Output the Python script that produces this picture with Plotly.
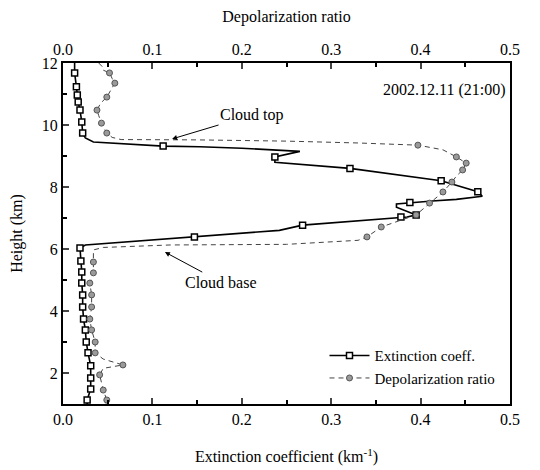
import plotly.graph_objects as go

# Extinction coefficient (km^-1) line vs height (km)
ext_line_h = [12.0, 11.68, 11.23, 10.97, 10.74, 10.48, 10.1, 9.74, 9.58, 9.45, 9.40, 9.35, 9.32, 9.30, 9.25,
              9.15, 9.05, 8.97, 8.8, 8.6, 8.2, 7.85, 7.7, 7.6, 7.55, 7.5, 7.45, 7.35, 7.1, 7.03, 6.77, 6.6,
              6.39, 6.13, 6.03, 5.61, 5.26, 4.9, 4.52, 4.13, 3.74, 3.39, 3.0, 2.65, 2.23, 1.84, 1.48, 1.13, 1.0]
ext_line_v = [0.013, 0.013, 0.015, 0.016, 0.017, 0.019, 0.021, 0.022, 0.025, 0.034, 0.06, 0.09, 0.112, 0.153, 0.20,
              0.265, 0.250, 0.237, 0.237, 0.321, 0.423, 0.464, 0.469, 0.440, 0.413, 0.388, 0.373, 0.373, 0.395, 0.385, 0.268, 0.242,
              0.147, 0.025, 0.019, 0.020, 0.021, 0.021, 0.022, 0.022, 0.023, 0.025, 0.026, 0.028, 0.031, 0.031, 0.031, 0.027, 0.027]
# Extinction coefficient markers
ext_mark_h = [11.68, 11.23, 10.97, 10.74, 10.48, 10.1, 9.74, 9.32, 8.97, 8.6, 8.2, 7.85, 7.5, 7.1, 7.03,
              6.77, 6.39, 6.03, 5.61, 5.26, 4.9, 4.52, 4.13, 3.74, 3.39, 3.0, 2.65, 2.23, 1.84, 1.48, 1.13]
ext_mark_v = [0.013, 0.015, 0.016, 0.017, 0.019, 0.021, 0.022, 0.112, 0.237, 0.321, 0.423, 0.464, 0.388, 0.395, 0.378,
              0.268, 0.147, 0.019, 0.020, 0.021, 0.021, 0.022, 0.022, 0.023, 0.025, 0.026, 0.028, 0.031, 0.031, 0.031, 0.027]

# Depolarization ratio line vs height (km)
dep_line_h = [12.0, 11.85, 11.77, 11.68, 11.5, 11.35, 11.1, 10.9, 10.7, 10.48, 10.3, 10.06, 9.9, 9.74, 9.6, 9.53,
              9.52, 9.48, 9.42, 9.35, 9.2, 8.97, 8.77, 8.55, 8.35, 8.16, 7.84, 7.48, 7.1, 6.9, 6.71, 6.39, 6.28,
              6.15, 6.13, 6.05, 5.97, 5.58, 5.23, 4.9, 4.52, 4.13, 3.74, 3.39, 3.0, 2.65, 2.45, 2.26, 2.15, 1.94,
              1.7, 1.45, 1.13, 1.0]
dep_line_v = [0.040, 0.045, 0.045, 0.052, 0.055, 0.058, 0.053, 0.049, 0.042, 0.038, 0.040, 0.043, 0.046, 0.049, 0.055, 0.065,
              0.15, 0.25, 0.33, 0.397, 0.425, 0.44, 0.451, 0.447, 0.440, 0.435, 0.425, 0.41, 0.395, 0.375, 0.356, 0.34, 0.33,
              0.25, 0.12, 0.045, 0.034, 0.034, 0.034, 0.030, 0.032, 0.032, 0.030, 0.032, 0.036, 0.036, 0.045, 0.067, 0.045, 0.041,
              0.043, 0.045, 0.049, 0.048]
# Depolarization ratio markers
dep_mark_h = [11.68, 11.35, 10.9, 10.48, 10.06, 9.74, 9.35, 8.97, 8.77, 8.55, 8.16, 7.84, 7.48, 7.1, 6.71, 6.39,
              5.58, 5.23, 4.9, 4.52, 4.13, 3.74, 3.39, 3.0, 2.65, 2.26, 1.94, 1.45, 1.13]
dep_mark_v = [0.052, 0.058, 0.049, 0.038, 0.043, 0.049, 0.397, 0.44, 0.451, 0.447, 0.435, 0.425, 0.41, 0.395, 0.356, 0.34,
              0.034, 0.034, 0.030, 0.032, 0.032, 0.030, 0.032, 0.036, 0.036, 0.067, 0.041, 0.045, 0.049]

FONT = "Liberation Serif"

fig = go.Figure()
fig.add_trace(go.Scatter(x=dep_line_v, y=dep_line_h, mode="lines", xaxis="x2",
                         line=dict(color="#444444", width=1, dash="5px,4px"), showlegend=False, hoverinfo="skip"))
fig.add_trace(go.Scatter(x=dep_mark_v, y=dep_mark_h, mode="markers", xaxis="x2",
                         marker=dict(symbol="circle", size=6, color="#9a9a9a", line=dict(color="#555555", width=1)),
                         showlegend=False))
fig.add_trace(go.Scatter(x=ext_line_v, y=ext_line_h, mode="lines",
                         line=dict(color="black", width=1.6), showlegend=False, hoverinfo="skip"))
fig.add_trace(go.Scatter(x=ext_mark_v, y=ext_mark_h, mode="markers",
                         marker=dict(symbol="square", size=6, color="white", line=dict(color="black", width=1.5)),
                         showlegend=False))
# legend entries
fig.add_trace(go.Scatter(x=[None], y=[None], mode="lines+markers", name="Extinction coeff.",
                         line=dict(color="black", width=1.6),
                         marker=dict(symbol="square", size=6, color="white", line=dict(color="black", width=1.5))))
fig.add_trace(go.Scatter(x=[None], y=[None], mode="lines+markers", name="Depolarization ratio",
                         line=dict(color="#444444", width=1, dash="5px,4px"),
                         marker=dict(symbol="circle", size=6, color="#9a9a9a", line=dict(color="#555555", width=1))))

axis_common = dict(range=[0, 0.5], dtick=0.1, tickformat=".1f", ticks="inside", ticklen=6, tickwidth=2,
                   showline=True, linewidth=2, linecolor="black", showgrid=False, zeroline=False,
                   automargin=False,
                   tickfont=dict(family=FONT, size=16, color="black"),
                   minor=dict(dtick=0.05, ticks="inside", ticklen=4, tickwidth=1.5, tickcolor="black"))

fig.update_layout(
    width=540, height=470,
    margin=dict(l=63, r=30, t=63, b=66),
    paper_bgcolor="white", plot_bgcolor="white",
    font=dict(family=FONT, size=16, color="black"),
    xaxis=dict(**axis_common,
               title=dict(text="Extinction coefficient (km<sup>-1</sup>)", font=dict(family=FONT, size=16), standoff=24)),
    xaxis2=dict(**axis_common, overlaying="x", side="top",
                title=dict(text="Depolarization ratio", font=dict(family=FONT, size=16), standoff=14)),
    yaxis=dict(range=[1, 12], tickvals=[2, 4, 6, 8, 10, 12], ticks="inside", ticklen=6, tickwidth=2,
               showline=True, linewidth=2, linecolor="black", mirror=True, showgrid=False, zeroline=False,
               automargin=False,
               tickfont=dict(family=FONT, size=16, color="black"),
               minor=dict(dtick=1, ticks="inside", ticklen=4, tickwidth=1.5, tickcolor="black"),
               title=dict(text="Height (km)", font=dict(family=FONT, size=16), standoff=15)),
    legend=dict(x=0.585, y=0.19, xanchor="left", yanchor="top", bgcolor="rgba(0,0,0,0)",
                font=dict(family=FONT, size=15), tracegroupgap=0, itemwidth=40),
    annotations=[
        dict(x=0.122, y=9.55, xref="x", yref="y", text="Cloud top", showarrow=True, arrowhead=2, arrowsize=1,
             arrowwidth=1, arrowcolor="black", ax=80, ay=-24, font=dict(family=FONT, size=16)),
        dict(x=0.114, y=5.9, xref="x", yref="y", text="Cloud base", showarrow=True, arrowhead=2, arrowsize=1,
             arrowwidth=1, arrowcolor="black", ax=56, ay=30, font=dict(family=FONT, size=16)),
        dict(x=0.995, y=0.921, xref="paper", yref="paper", text="2002.12.11 (21:00)", showarrow=False,
             xanchor="right", yanchor="middle", font=dict(family=FONT, size=16)),
    ],
)

fig.write_html("out.html")
